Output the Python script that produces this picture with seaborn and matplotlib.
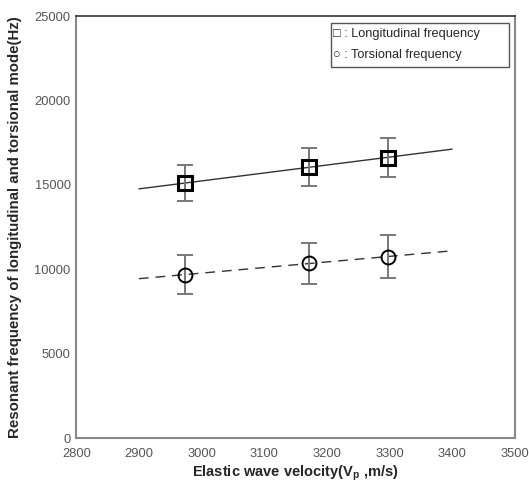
import numpy as np
import pandas as pd
import matplotlib
matplotlib.use("Agg")
import matplotlib.pyplot as plt
import seaborn as sns
from matplotlib.patches import Rectangle
from matplotlib.ticker import MultipleLocator

# ---- data ----
velocity = [2973, 3172, 3297]
long_freq = [15097, 16080, 16613]
long_err = [1072, 1125, 1145]
tors_freq = [9686, 10361, 10752]
tors_err = [1166, 1231, 1273]
fit_range = [2900, 3400]

x_ticks = [2800, 2900, 3000, 3100, 3200, 3300, 3400, 3500]
y_ticks = [0, 5000, 10000, 15000, 20000, 25000]

legend_labels = ["\u25a1 : Longitudinal frequency", "\u25cb : Torsional frequency"]
x_label = "Elastic wave velocity(V$_\\mathregular{p}$ ,m/s)"
y_label = "Resonant frequency of longitudinal and torsional mode(Hz)"

sns.set_style("white")
plt.rcParams["font.family"] = ["Liberation Sans", "DejaVu Sans"]
plt.rcParams["mathtext.fontset"] = "custom"
plt.rcParams["mathtext.rm"] = "Liberation Sans:bold"
plt.rcParams["mathtext.it"] = "Liberation Sans:bold"
plt.rcParams["mathtext.bf"] = "Liberation Sans:bold"

fig = plt.figure(figsize=(5.29, 4.84), dpi=100)
ax = fig.add_axes([0.1442, 0.0944, 0.8288, 0.8725])

df = pd.DataFrame({"v": velocity, "L": long_freq, "T": tors_freq})

# fitted lines
xf = np.array(fit_range, dtype=float)
pL = np.polyfit(velocity, long_freq, 1)
pT = np.polyfit(velocity, tors_freq, 1)
fit_df = pd.DataFrame({"v": xf, "L": np.polyval(pL, xf), "T": np.polyval(pT, xf)})
sns.lineplot(data=fit_df, x="v", y="L", ax=ax, color="#333333", lw=1.0, zorder=2)
sns.lineplot(data=fit_df, x="v", y="T", ax=ax, color="#333333", lw=1.0, zorder=2)
ax.lines[-1].set_dashes([7, 5])

# error bars
ax.errorbar(velocity, long_freq, yerr=long_err, fmt="none", ecolor="#777777",
            elinewidth=1.4, capsize=5.5, capthick=1.4, zorder=3)
ax.errorbar(velocity, tors_freq, yerr=tors_err, fmt="none", ecolor="#777777",
            elinewidth=1.4, capsize=5.5, capthick=1.4, zorder=3)

# markers
ax.plot(df["v"], df["L"], ls="none", marker="s", ms=10, mfc="none",
        mec="black", mew=2.2, zorder=4)
ax.plot(df["v"], df["T"], ls="none", marker="o", ms=10, mfc="none",
        mec="black", mew=1.4, zorder=4)

ax.set_xlim(2800, 3500)
ax.set_ylim(0, 25000)
ax.set_xticks(x_ticks)
ax.set_yticks(y_ticks)
ax.xaxis.set_minor_locator(MultipleLocator(50))
ax.yaxis.set_minor_locator(MultipleLocator(2500))
ax.tick_params(axis="both", which="major", direction="in", length=13,
               width=1.2, color="#555555", labelsize=9.3, labelcolor="#555555")
ax.tick_params(axis="both", which="minor", direction="in", length=6,
               width=1.2, color="#777777")
ax.tick_params(axis="x", which="major", pad=7)
ax.tick_params(axis="y", which="major", pad=4)

for side in ["left", "right", "bottom"]:
    ax.spines[side].set_color("#888888")
    ax.spines[side].set_linewidth(1.5)
ax.spines["top"].set_color("#333333")
ax.spines["top"].set_linewidth(1.2)

ax.set_xlabel(x_label, fontsize=10.5, fontweight="bold", labelpad=3)
ax.set_ylabel(y_label, fontsize=10.8, fontweight="bold", labelpad=9)

# legend box
ax.add_patch(Rectangle((0.581, 0.880), 0.406, 0.104, transform=ax.transAxes,
                       fill=False, edgecolor="#555555", lw=1.0, zorder=5))
ax.text(0.586, 0.957, legend_labels[0], transform=ax.transAxes, fontsize=9.2,
        va="center", ha="left")
ax.text(0.586, 0.907, legend_labels[1], transform=ax.transAxes, fontsize=9.2,
        va="center", ha="left")

fig.savefig("out.png", dpi=100)
